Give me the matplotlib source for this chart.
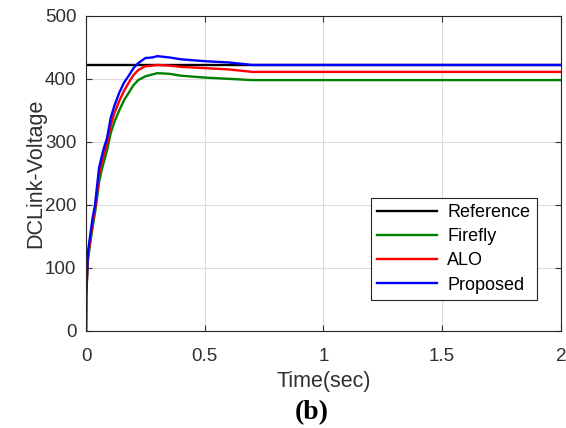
import numpy as np
import matplotlib.pyplot as plt

# DC link voltage response (V) against time (s)
t_ref = [0.0, 2.0]
v_ref = [422, 422]

t_sim = [0.0, 0.001, 0.008, 0.017, 0.028, 0.038, 0.047, 0.055, 0.065, 0.075, 0.088, 0.104,
         0.12, 0.14, 0.16, 0.18, 0.20, 0.22, 0.25, 0.28, 0.30, 0.35, 0.40, 0.50, 0.60,
         0.65, 0.70, 2.0]
v_ff = [0, 55, 112, 138, 165, 188, 212, 236, 254, 268, 286, 314, 332, 350, 366, 378,
        390, 398, 404, 407, 409, 408, 405, 402, 400, 399, 398, 398]
v_alo = [0, 58, 118, 143, 172, 194, 222, 248, 265, 280, 296, 326, 346, 365, 381, 394,
         406, 414, 420, 421, 422, 421, 419, 417, 415, 413, 411, 411]
v_prop = [0, 62, 125, 150, 180, 200, 232, 259, 275, 290, 305, 338, 358, 378, 394, 405,
          417, 425, 433, 434, 436, 434, 431, 428, 426, 424, 422, 422]

series = [
    ("Reference", t_ref, v_ref, "black"),
    ("Firefly", t_sim, v_ff, "#008000"),
    ("ALO", t_sim, v_alo, "#ff0000"),
    ("Proposed", t_sim, v_prop, "#0000ff"),
]

plt.rcParams["font.family"] = ["Liberation Sans", "DejaVu Sans"]

fig = plt.figure(figsize=(5.66, 4.28), dpi=100)
ax = fig.add_axes([0.152, 0.227, 0.839, 0.736])

for name, t, v, c in series:
    ax.plot(t, v, color=c, lw=1.7, label=name)

ax.set_xlim(0, 2)
ax.set_ylim(0, 500)
ax.set_xticks([0, 0.5, 1, 1.5, 2])
ax.set_xticklabels(["0", "0.5", "1", "1.5", "2"])
ax.set_yticks([0, 100, 200, 300, 400, 500])
ax.grid(True, color="#dcdcdc", lw=0.8)
ax.set_axisbelow(True)

ax.tick_params(direction="in", top=True, right=True, labelsize=13.5,
               colors="#303030", length=4, width=0.8)
ax.tick_params(axis="x", pad=12)
ax.tick_params(axis="y", pad=7)
for s in ax.spines.values():
    s.set_color("#262626")
    s.set_linewidth(0.8)

ax.set_xlabel("Time(sec)", fontsize=15.5, color="#303030", labelpad=5)
ax.set_ylabel("DCLink-Voltage", fontsize=15.5, color="#303030", labelpad=-1)

leg = ax.legend(loc="lower right", bbox_to_anchor=(0.949, 0.098), borderaxespad=0,
                fontsize=13, fancybox=False, framealpha=1, edgecolor="#262626",
                handlelength=3.3, borderpad=0.35, labelspacing=0.4,
                handletextpad=0.6)
leg.get_frame().set_linewidth(0.8)

fig.text(0.55, 0.037, "(b)", ha="center", va="center", fontsize=20,
         fontweight="bold", family="Liberation Serif")

fig.savefig("out.png", dpi=100)
